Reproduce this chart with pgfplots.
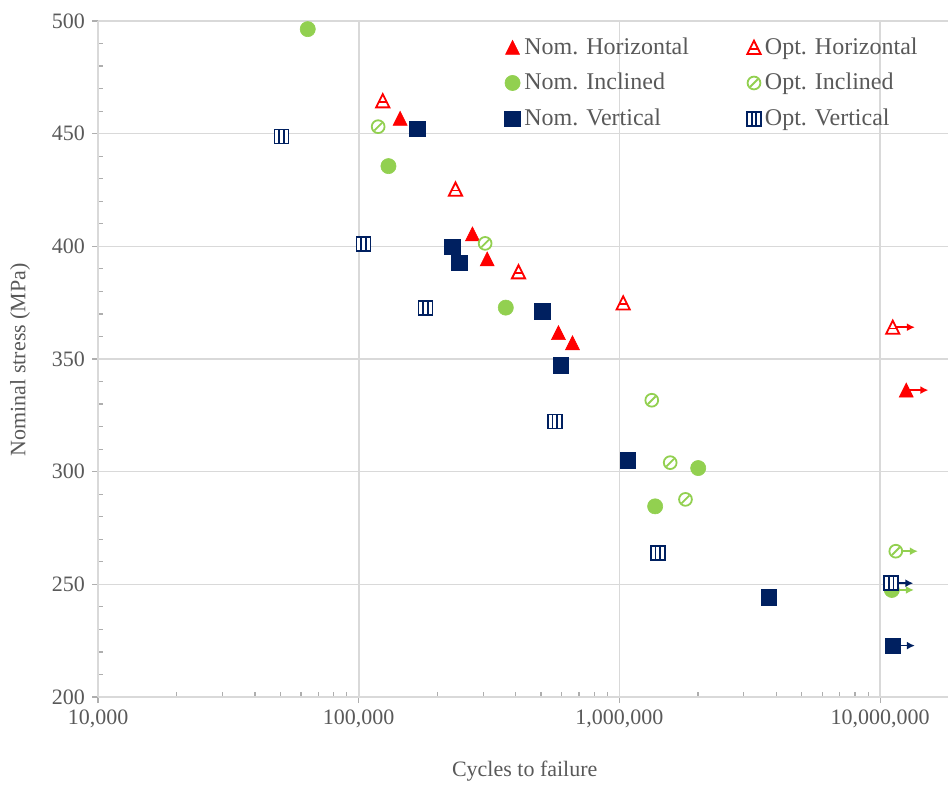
\documentclass[border=0pt]{standalone}
\usepackage{fontspec}
\setmainfont{Liberation Serif}
\usepackage{pgfplots}
\pgfplotsset{compat=1.18}
\usetikzlibrary{arrows.meta}

\definecolor{hred}{HTML}{FF0000}
\definecolor{igreen}{HTML}{92D050}
\definecolor{vnavy}{HTML}{002060}
\definecolor{gridgray}{HTML}{D9D9D9}
\definecolor{txtgray}{HTML}{595959}

% marks: filled / striped versions
\pgfdeclareplotmark{tri}{%
  \pgfpathmoveto{\pgfpoint{0pt}{\pgfplotmarksize}}%
  \pgfpathlineto{\pgfpoint{-\pgfplotmarksize}{-\pgfplotmarksize}}%
  \pgfpathlineto{\pgfpoint{\pgfplotmarksize}{-\pgfplotmarksize}}%
  \pgfpathclose
  \pgfusepathqfillstroke}
\pgfdeclareplotmark{tristripe}{%
  \pgfpathmoveto{\pgfpoint{0pt}{\pgfplotmarksize}}%
  \pgfpathlineto{\pgfpoint{-\pgfplotmarksize}{-\pgfplotmarksize}}%
  \pgfpathlineto{\pgfpoint{\pgfplotmarksize}{-\pgfplotmarksize}}%
  \pgfpathclose
  \pgfusepathqfillstroke
  \pgfpathmoveto{\pgfpoint{-0.6\pgfplotmarksize}{-0.2\pgfplotmarksize}}%
  \pgfpathlineto{\pgfpoint{0.6\pgfplotmarksize}{-0.2\pgfplotmarksize}}%
  \pgfusepathqstroke}
\pgfdeclareplotmark{circslash}{%
  \pgfpathcircle{\pgfpointorigin}{\pgfplotmarksize}%
  \pgfusepathqfillstroke
  \pgfpathmoveto{\pgfpoint{-0.6\pgfplotmarksize}{-0.6\pgfplotmarksize}}%
  \pgfpathlineto{\pgfpoint{0.6\pgfplotmarksize}{0.6\pgfplotmarksize}}%
  \pgfusepathqstroke}
\pgfdeclareplotmark{sqbars}{%
  \pgfpathrectangle{\pgfpoint{-\pgfplotmarksize}{-\pgfplotmarksize}}{\pgfpoint{2\pgfplotmarksize}{2\pgfplotmarksize}}%
  \pgfusepathqfillstroke
  \pgfpathmoveto{\pgfpoint{-0.33\pgfplotmarksize}{-\pgfplotmarksize}}%
  \pgfpathlineto{\pgfpoint{-0.33\pgfplotmarksize}{\pgfplotmarksize}}%
  \pgfpathmoveto{\pgfpoint{0.33\pgfplotmarksize}{-\pgfplotmarksize}}%
  \pgfpathlineto{\pgfpoint{0.33\pgfplotmarksize}{\pgfplotmarksize}}%
  \pgfusepathqstroke}

\begin{document}
\begin{tikzpicture}
\begin{axis}[
  scale only axis,
  width=425pt, height=338pt,
  xmode=log,
  xmin=1e4, xmax=1.82e7,
  ymin=200, ymax=500,
  axis lines=left,
  axis line style={-, draw=gridgray, line width=0.8pt},
  xtick={1e4,1e5,1e6,1e7},
  xticklabels={{10,000},{100,000},{1,000,000},{10,000,000}},
  minor xtick={2e4,3e4,4e4,5e4,6e4,7e4,8e4,9e4,2e5,3e5,4e5,5e5,6e5,7e5,8e5,9e5,2e6,3e6,4e6,5e6,6e6,7e6,8e6,9e6},
  ytick={200,250,...,500},
  minor y tick num=4,
  tick align=outside,
  major tick length=3pt,
  minor tick length=2.5pt,
  minor x tick style={yshift=2.5pt},
  minor y tick style={xshift=2.5pt},
  tick style={color=gridgray!80!black, line width=0.6pt},
  grid=major,
  major grid style={gridgray, line width=0.8pt},
  ticklabel style={text=txtgray, font=\fontsize{11}{13}\selectfont},
  /pgf/number format/assume math mode=true,
  xlabel={Cycles to failure},
  ylabel={Nominal stress (MPa)},
  label style={text=txtgray, font=\fontsize{11}{13}\selectfont},
  xlabel style={at={(axis description cs:0.502,0)}, anchor=center, yshift=-37pt},
  ylabel style={at={(axis description cs:0,0.499)}, anchor=center, yshift=39pt},
  clip=false,
  legend columns=2,
  legend cell align=left,
  legend image code/.code={\draw[mark repeat=2,mark phase=2,#1] plot coordinates {(0cm,0cm)(0.13cm,0cm)(0.26cm,0cm)};},
  legend style={at={(axis description cs:0.471,0.988)}, anchor=north west,
    draw=none, fill=none, text=txtgray, font=\fontsize{12}{13}\selectfont,
    row sep=4pt, /tikz/every even column/.append style={column sep=27pt}},
]

% run-out arrows
\addplot[forget plot, hred, line width=0.8pt, -{Latex[length=4pt,width=4pt]}] coordinates {(12580000,336.2) (15300000,336.2)};
\addplot[forget plot, hred, line width=0.8pt, -{Latex[length=4pt,width=4pt]}] coordinates {(11175000,364.1) (13580000,364.1)};
\addplot[forget plot, igreen, line width=0.8pt, -{Latex[length=4pt,width=4pt]}] coordinates {(11080000,247.5) (13460000,247.5)};
\addplot[forget plot, igreen, line width=0.8pt, -{Latex[length=4pt,width=4pt]}] coordinates {(11475000,264.7) (13940000,264.7)};
\addplot[forget plot, vnavy, line width=0.8pt, -{Latex[length=4pt,width=4pt]}] coordinates {(11175000,222.8) (13580000,222.8)};
\addplot[forget plot, vnavy, line width=0.8pt, -{Latex[length=4pt,width=4pt]}] coordinates {(11020000,250.5) (13390000,250.5)};

\addplot[only marks, mark=tri, mark size=3.5pt, mark options={draw=hred, fill=hred, line width=0.3pt}] coordinates {
(144100,456.8) (273000,405.5) (310800,394.4) (583500,361.7) (660200,357.2) (12580000,336.2)
};
\addlegendentry{Nom. Horizontal}
\addplot[only marks, mark=tristripe, mark size=3.3pt, mark options={draw=hred, fill=white, line width=0.9pt}] coordinates {
(123600,464.6) (235000,425.4) (410000,388.7) (1033000,374.9) (11175000,364.1)
};
\addlegendentry{Opt. Horizontal}
\addplot[only marks, mark=*, mark size=3.8pt, mark options={draw=igreen, fill=igreen, line width=0.3pt}] coordinates {
(63740,496.4) (130000,435.6) (366400,372.8) (2004000,301.6) (1370000,284.6) (11080000,247.5)
};
\addlegendentry{Nom. Inclined}
\addplot[only marks, mark=circslash, mark size=3.2pt, mark options={draw=igreen, fill=white, line width=0.9pt}] coordinates {
(118700,453.1) (305300,401.3) (1330000,331.7) (1565000,304.0) (1791000,287.7) (11475000,264.7)
};
\addlegendentry{Opt. Inclined}
\addplot[only marks, mark=square*, mark size=3.9pt, mark options={draw=vnavy, fill=vnavy, line width=0.3pt}] coordinates {
(167500,452.1) (228200,399.8) (243400,392.7) (506500,371.3) (595500,347.3) (1076000,305.0) (3738000,244.2) (11175000,222.8)
};
\addlegendentry{Nom. Vertical}
\addplot[only marks, mark=sqbars, mark size=3.5pt, mark options={draw=vnavy, fill=white, line width=0.9pt}] coordinates {
(50520,448.7) (104200,401.0) (180300,372.8) (564800,322.3) (1403000,263.8) (11020000,250.5)
};
\addlegendentry{Opt. Vertical}

\end{axis}
\pgfresetboundingbox
\path (-49pt,-45pt) rectangle (425pt,348.5pt);
\end{tikzpicture}
\end{document}
